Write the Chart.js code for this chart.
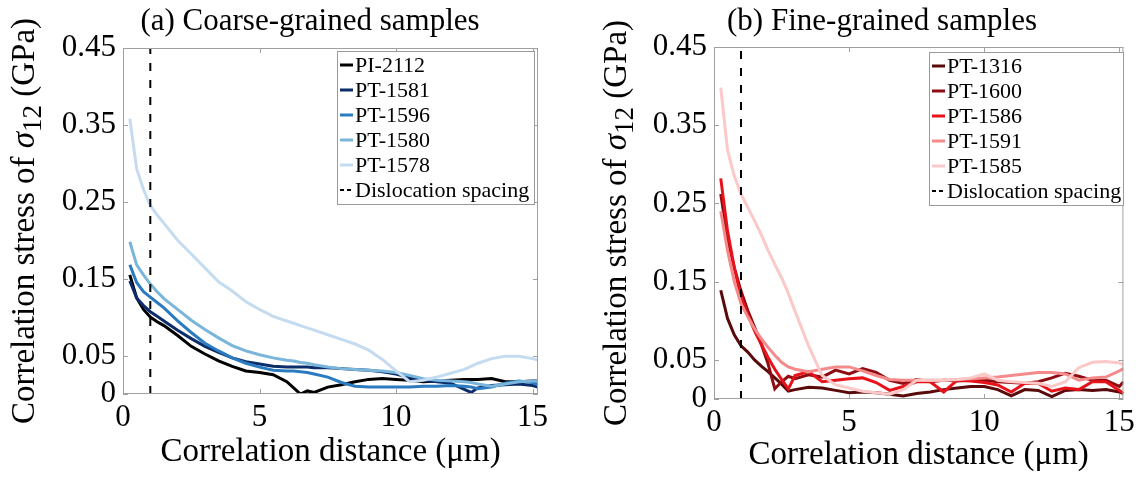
<!DOCTYPE html>
<html>
<head>
<meta charset="utf-8">
<script src="https://cdn.jsdelivr.net/npm/chart.js@4.4.0/dist/chart.umd.min.js"></script>
<style>
  body { margin: 0; background: #fff; width: 1140px; height: 478px; overflow: hidden; position: relative; }
  .panel { position: absolute; top: 0; width: 570px; height: 478px; }
</style>
</head>
<body>
<div class="panel" style="left:0"><canvas id="coarseChart"></canvas></div>
<div class="panel" style="left:570px"><canvas id="fineChart"></canvas></div>
<script>
// axis ticks
const yTicks = [0, 0.05, 0.15, 0.25, 0.35, 0.45];
const xTicks = [0, 5, 10, 15];
const spacing = 1; // dislocation spacing (um)

// (a) coarse-grained samples
const distA  = [0.25, 0.5, 0.75, 1, 1.25, 1.5, 2, 2.5, 3, 3.5, 4, 4.5, 5, 5.5, 6, 6.25, 6.5, 6.75, 7, 7.5, 8, 8.5, 9, 9.5, 10, 10.5, 11, 11.5, 12, 12.5, 12.75, 13, 13.5, 14, 14.5, 15, 15.2];
const pi2112 = [.155, .125, .110, .100, .094, .089, .076, .062, .052, .043, .036, .030, .028, .025, .016, .008, .000, .004, .002, .009, .012, .016, .019, .020, .019, .018, .016, .017, .018, .019, .019, .019, .020, .016, .016, .017, .017];
const pt1581 = [.147, .125, .115, .107, .101, .095, .083, .072, .062, .054, .047, .042, .039, .036, .035, .035, .035, .035, .034, .034, .033, .032, .031, .029, .026, .021, .018, .016, .014, .006, .002, .008, .011, .012, .013, .011, .009];
const pt1596 = [.168, .145, .133, .126, .119, .112, .095, .080, .066, .056, .047, .040, .035, .031, .030, .030, .029, .028, .026, .022, .015, .010, .009, .009, .009, .009, .010, .010, .011, .010, .009, .007, .009, .014, .017, .015, .012];
const pt1580 = [.198, .168, .155, .143, .133, .124, .110, .096, .084, .073, .063, .056, .051, .047, .044, .043, .041, .040, .038, .035, .033, .032, .031, .030, .028, .024, .020, .018, .017, .016, .015, .013, .010, .013, .016, .017, .017];
const pt1578 = [.358, .293, .266, .245, .233, .222, .200, .182, .164, .146, .134, .120, .110, .101, .095, .092, .089, .086, .083, .077, .071, .065, .057, .045, .030, .016, .018, .022, .027, .032, .036, .040, .046, .049, .049, .046, .044];

// (b) fine-grained samples
const distB  = [0.25, 0.5, 0.75, 1, 1.25, 1.5, 1.75, 2, 2.25, 2.5, 2.75, 3, 3.5, 4, 4.5, 5, 5.5, 6, 6.5, 7, 7.5, 8, 8.5, 9, 9.5, 10, 10.5, 11, 11.5, 12, 12.5, 13, 13.5, 14, 14.5, 15, 15.15];
const pt1316 = [.139, .103, .082, .068, .060, .050, .042, .035, .027, .019, .010, .012, .015, .014, .011, .008, .009, .008, .006, .004, .007, .009, .012, .014, .016, .016, .012, .004, .012, .011, .003, .011, .012, .011, .012, .009, .007];
const pt1600 = [.262, .205, .168, .138, .113, .092, .070, .045, .013, .022, .029, .026, .031, .028, .037, .032, .039, .034, .024, .020, .025, .022, .024, .023, .024, .024, .022, .021, .020, .022, .027, .033, .029, .024, .024, .016, .022];
const pt1586 = [.282, .215, .168, .130, .108, .087, .070, .053, .038, .025, .013, .030, .035, .022, .024, .026, .027, .021, .011, .016, .022, .022, .009, .024, .023, .021, .018, .009, .020, .020, .010, .014, .012, .022, .022, .011, .007];
const pt1591 = [.240, .190, .150, .122, .105, .090, .077, .066, .056, .047, .041, .038, .035, .038, .041, .041, .036, .030, .025, .024, .024, .024, .024, .025, .026, .027, .028, .030, .032, .034, .034, .032, .024, .027, .028, .036, .039];
const pt1585 = [.398, .318, .285, .262, .245, .228, .210, .190, .172, .155, .135, .112, .068, .030, .018, .014, .010, .008, .006, .012, .024, .024, .024, .025, .027, .032, .024, .022, .021, .020, .016, .022, .040, .047, .048, .046, .044];

const serif = '"Liberation Serif", "Times New Roman", serif';

function series(label, xs, ys, color, i) {
    return {
        label: label,
        data: xs.map((x, k) => ({ x: x, y: ys[k] })),
        borderColor: color,
        borderWidth: 3,
        pointRadius: 0,
        tension: 0,
        order: -i
    };
}

function spacingLine() {
    return {
        label: 'Dislocation spacing',
        data: [{ x: spacing, y: 0 }, { x: spacing, y: 0.45 }],
        borderColor: '#000',
        borderWidth: 2,
        borderDash: [8, 9],
        pointRadius: 0,
        order: -99
    };
}

// frame, inward ticks, titles and legend box drawn on the canvas
const decor = {
    id: 'decor',
    afterDraw(chart, args, o) {
        const { ctx, chartArea: a, scales } = chart;
        ctx.save();

        // frame + inward tick marks
        ctx.strokeStyle = '#a0a0a0';
        ctx.lineWidth = 1;
        ctx.strokeRect(a.left + 0.5, a.top + 0.5, a.width - 1, a.height - 1);
        ctx.beginPath();
        yTicks.forEach(v => {
            const py = Math.round(scales.y.getPixelForValue(v)) + 0.5;
            ctx.moveTo(a.left, py); ctx.lineTo(a.left + 5, py);
            ctx.moveTo(a.right, py); ctx.lineTo(a.right - 5, py);
        });
        xTicks.forEach(v => {
            const px = Math.round(scales.x.getPixelForValue(v)) + 0.5;
            ctx.moveTo(px, a.bottom); ctx.lineTo(px, a.bottom - 5);
            ctx.moveTo(px, a.top); ctx.lineTo(px, a.top + 5);
        });
        ctx.stroke();

        // panel title
        ctx.fillStyle = '#000';
        ctx.font = '31px ' + serif;
        ctx.textAlign = 'center';
        ctx.textBaseline = 'middle';
        ctx.fillText(o.title, o.titleX, 22);

        // y axis title with italic sigma and subscript
        const parts = [
            ['Correlation stress of ', '33px ', 0],
            ['\u03c3', 'italic 33px ', 0],
            ['12', '27px ', 9],
            [' (GPa)', '33px ', 0]
        ];
        let total = 0;
        parts.forEach(p => { ctx.font = p[1] + serif; total += ctx.measureText(p[0]).width; });
        ctx.translate(o.yTitleX, (a.top + a.bottom) / 2);
        ctx.rotate(-Math.PI / 2);
        ctx.textAlign = 'left';
        let tx = -total / 2;
        parts.forEach(p => {
            ctx.font = p[1] + serif;
            ctx.fillText(p[0], tx, p[2]);
            tx += ctx.measureText(p[0]).width;
        });
        ctx.setTransform(1, 0, 0, 1, 0, 0);
        ctx.restore();

        // legend
        const L = o.legend;
        const sets = chart.data.datasets;
        const h = 28 + (sets.length - 1) * 25;
        ctx.save();
        ctx.fillStyle = '#fff';
        ctx.fillRect(L.x, L.y, L.w, h);
        ctx.strokeStyle = '#9a9a9a';
        ctx.lineWidth = 1;
        ctx.strokeRect(L.x + 0.5, L.y + 0.5, L.w, h);
        ctx.font = '22px ' + serif;
        ctx.textBaseline = 'middle';
        ctx.textAlign = 'left';
        sets.forEach((d, i) => {
            const cy = L.y + 14 + i * 25;
            ctx.beginPath();
            ctx.strokeStyle = d.borderColor;
            if (d.borderDash) {
                ctx.lineWidth = 2;
                ctx.setLineDash([4, 3]);
            } else {
                ctx.lineWidth = 3;
                ctx.setLineDash([]);
            }
            ctx.moveTo(L.x + 3, cy);
            ctx.lineTo(L.x + 16, cy);
            ctx.stroke();
            ctx.setLineDash([]);
            ctx.fillStyle = '#000';
            ctx.fillText(d.label, L.x + 18, cy + 1);
        });
        ctx.restore();
    }
};

function makeChart(id, datasets, cfg) {
    const ctx = document.getElementById(id).getContext('2d');
    return new Chart(ctx, {
        type: 'line',
        data: { datasets: datasets },
        options: {
            responsive: true,
            maintainAspectRatio: false,
            animation: false,
            layout: { padding: { top: cfg.top, right: cfg.right, left: 0, bottom: 0 } },
            plugins: {
                legend: { display: false },
                tooltip: { enabled: false },
                decor: cfg.decor
            },
            scales: {
                x: {
                    type: 'linear',
                    min: 0,
                    max: cfg.xMax,
                    afterBuildTicks: s => { s.ticks = xTicks.map(v => ({ value: v })); },
                    afterFit: s => { s.height = cfg.xHeight; },
                    grid: { display: false, drawTicks: false },
                    border: { display: false },
                    ticks: { padding: 5, color: '#000', maxRotation: 0, font: { family: serif, size: 31 } },
                    title: {
                        display: true,
                        text: 'Correlation distance (\u03bcm)',
                        color: '#000',
                        font: { family: serif, size: 33 },
                        padding: { top: 0, bottom: cfg.xTitlePad }
                    }
                },
                y: {
                    type: 'linear',
                    min: 0,
                    max: 0.45,
                    afterBuildTicks: s => { s.ticks = yTicks.map(v => ({ value: v })); },
                    afterFit: s => { s.width = cfg.yWidth; },
                    grid: { display: false, drawTicks: false },
                    border: { display: false },
                    ticks: {
                        padding: 7,
                        color: '#000',
                        font: { family: serif, size: 31 },
                        callback: v => v === 0 ? '0' : v.toFixed(2)
                    }
                }
            }
        },
        plugins: [decor]
    });
}

const coarseSets = [
    series('PI-2112', distA, pi2112, '#000000', 0),
    series('PT-1581', distA, pt1581, '#0b2d6b', 1),
    series('PT-1596', distA, pt1596, '#2b7bc0', 2),
    series('PT-1580', distA, pt1580, '#7ab5dc', 3),
    series('PT-1578', distA, pt1578, '#c5dcf0', 4),
    spacingLine()
];

const fineSets = [
    series('PT-1316', distB, pt1316, '#5a0a0a', 0),
    series('PT-1600', distB, pt1600, '#8f0c12', 1),
    series('PT-1586', distB, pt1586, '#e8121a', 2),
    series('PT-1591', distB, pt1591, '#f58a8a', 3),
    series('PT-1585', distB, pt1585, '#fcc8c8', 4),
    spacingLine()
];

makeChart('coarseChart', coarseSets, {
    top: 48, right: 32, xMax: 15.2, xHeight: 84, xTitlePad: 6, yWidth: 123,
    decor: { title: '(a) Coarse-grained samples', titleX: 310, yTitleX: 25, legend: { x: 337, y: 51, w: 197 } }
});

makeChart('fineChart', fineSets, {
    top: 47, right: 13, xMax: 15.15, xHeight: 79, xTitlePad: 3, yWidth: 144,
    decor: { title: '(b) Fine-grained samples', titleX: 312, yTitleX: 47, legend: { x: 359, y: 52, w: 194 } }
});
</script>
</body>
</html>
